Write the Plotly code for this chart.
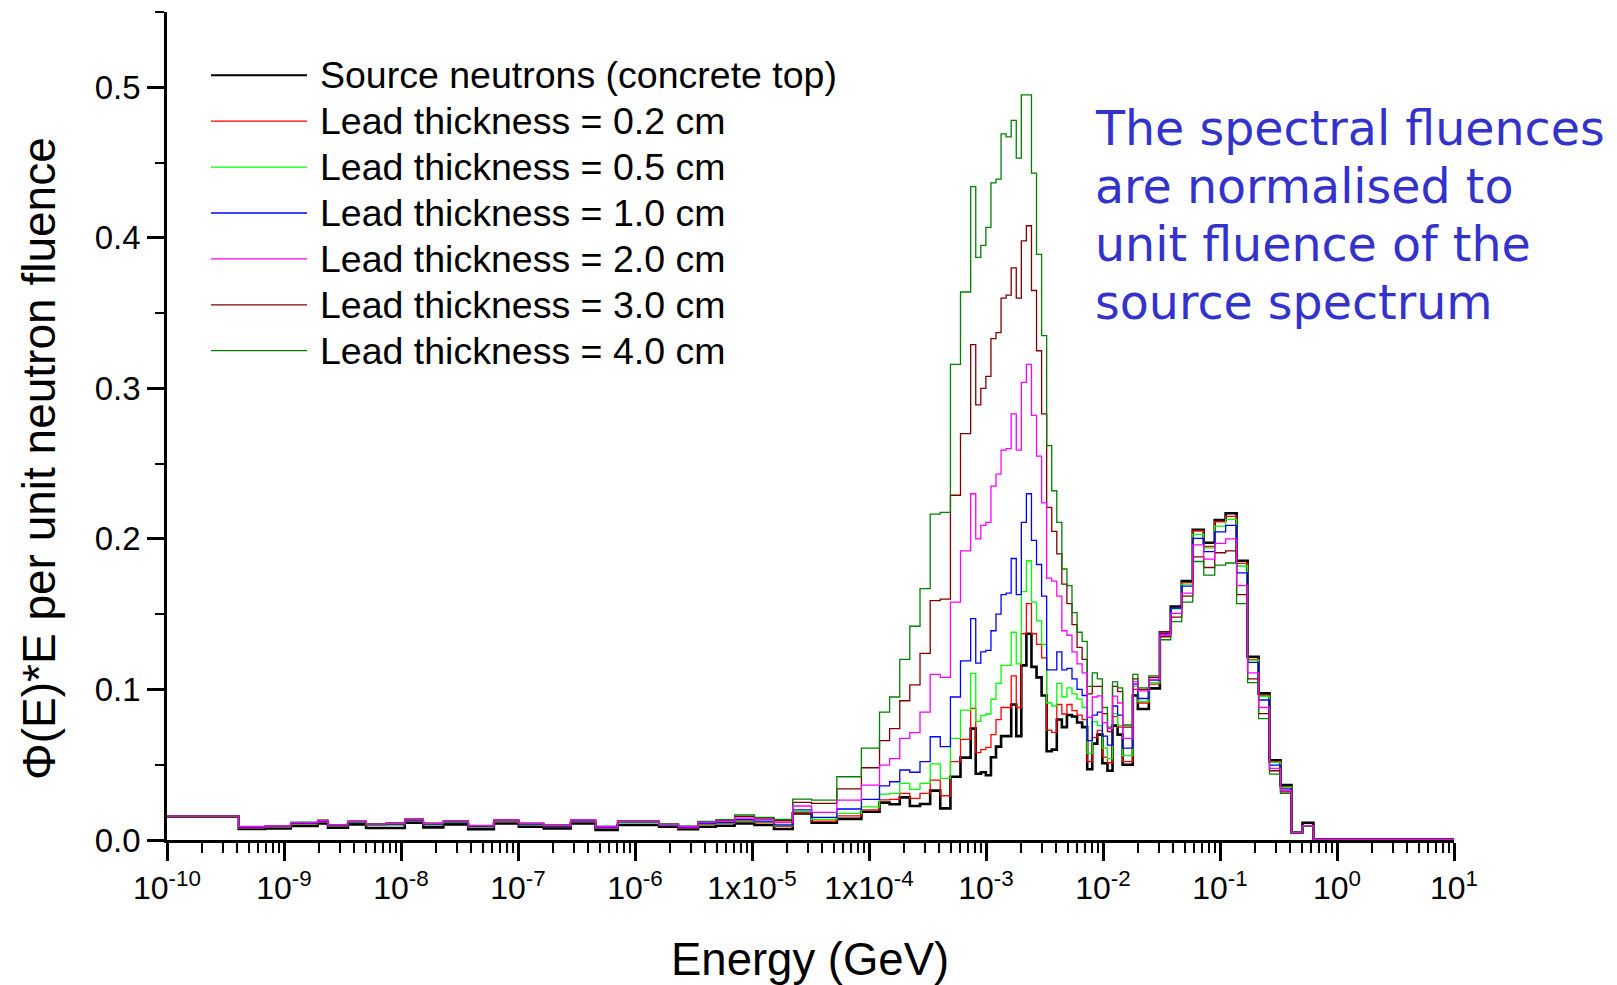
import plotly.graph_objects as go

# ---------------- data ----------------
# bin edges, log10(E / GeV)
edges_low = [-10.0, -9.387, -9.163, -8.943, -8.713, -8.624, -8.454, -8.298, -8.128, -7.968,
             -7.809, -7.638, -7.426, -7.206, -6.993, -6.78, -6.55, -6.337, -6.149, -5.794,
             -5.628, -5.461, -5.309, -5.149, -4.979, -4.812, -4.652]
edges_mid = [-4.49, -4.275, -4.065, -3.91, -3.824, -3.737, -3.651, -3.564, -3.477, -3.391,
             -3.304, -3.218, -3.131]
edges_peak = [-3.0877, -3.0444, -3.0011, -2.9578, -2.9145, -2.8712, -2.8279, -2.7846, -2.7413,
              -2.698, -2.6547, -2.6114, -2.5681, -2.5248, -2.4815, -2.4382, -2.3949, -2.3516,
              -2.3083, -2.265, -2.2217, -2.1784, -2.1351, -2.0918, -2.0485, -2.0052, -1.9619,
              -1.9186, -1.8753, -1.832, -1.7887, -1.7454, -1.7021]
edges_high = [-1.608, -1.514, -1.421, -1.327, -1.233, -1.139, -1.045, -0.952, -0.858, -0.764,
              -0.670, -0.577, -0.483, -0.389, -0.295, -0.201, 1.0]

# Source neutrons (concrete top)
black_low = [0.0155, 0.0073, 0.0077, 0.0093, 0.011, 0.0082, 0.0104, 0.008, 0.008, 0.0115,
             0.0084, 0.0104, 0.0071, 0.011, 0.0088, 0.0077, 0.011, 0.0066, 0.010, 0.0088,
             0.0071, 0.0088, 0.0095, 0.011, 0.010, 0.0073]
black_mid = [0.0177, 0.0115, 0.014, 0.0188, 0.0248, 0.0237, 0.0283, 0.0226, 0.0239, 0.0328,
             0.021, 0.042, 0.0547]
black_peak = [0.074, 0.044, 0.045, 0.043, 0.055, 0.062, 0.069, 0.069, 0.09, 0.069,
              0.116, 0.137, 0.115, 0.108, 0.096, 0.059, 0.06, 0.08, 0.075, 0.083,
              0.082, 0.078, 0.075, 0.047, 0.064, 0.070, 0.051, 0.046, 0.076, 0.070,
              0.050, 0.050, 0.096]
black_high = [0.087, 0.1007, 0.138, 0.155, 0.172, 0.206, 0.1974, 0.2125, 0.217, 0.1855,
              0.1217, 0.0974, 0.053, 0.0365, 0.005, 0.0115, 0.0004]

# Lead 0.2 cm
red_low = [0.0156, 0.0080, 0.0085, 0.0105, 0.0120, 0.0092, 0.0115, 0.0097, 0.0100, 0.0128,
           0.0100, 0.0116, 0.0085, 0.0123, 0.0100, 0.0088, 0.0122, 0.0078, 0.0115, 0.0096,
           0.0080, 0.0104, 0.0110, 0.0125, 0.0115, 0.0090]
red_mid = [0.018, 0.0126, 0.016, 0.020, 0.0266, 0.027, 0.031, 0.0277, 0.031, 0.0398,
           0.0294, 0.052, 0.0668]
red_peak = [0.0874, 0.058, 0.06, 0.0615, 0.070, 0.080, 0.088, 0.088, 0.109, 0.088,
            0.137, 0.157, 0.137, 0.13, 0.121, 0.073, 0.0715, 0.09, 0.0837, 0.09,
            0.086, 0.083, 0.080, 0.052, 0.068, 0.0728, 0.055, 0.0513, 0.082, 0.075,
            0.052, 0.052, 0.100]
red_high = [0.091, 0.1036, 0.138, 0.154, 0.171, 0.2054, 0.195, 0.2114, 0.215, 0.1837,
            0.120, 0.096, 0.052, 0.0355, 0.005, 0.0095, 0.0004]

# Lead 0.5 cm
lgreen_low = [0.0156, 0.0082, 0.0087, 0.0107, 0.0122, 0.0094, 0.0117, 0.0099, 0.0102, 0.0130,
              0.0102, 0.0118, 0.0088, 0.0126, 0.0103, 0.0090, 0.0125, 0.0080, 0.0118, 0.0098,
              0.0082, 0.0107, 0.0114, 0.0130, 0.0120, 0.0095]
lgreen_mid = [0.0188, 0.0137, 0.0177, 0.022, 0.0305, 0.031, 0.0376, 0.0336, 0.0376, 0.0505,
              0.041, 0.0675, 0.0863]
lgreen_peak = [0.1107, 0.0788, 0.0826, 0.0837, 0.0935, 0.104, 0.116, 0.116, 0.138, 0.117,
               0.165, 0.1855, 0.158, 0.1456, 0.130, 0.091, 0.089, 0.104, 0.095, 0.101,
               0.097, 0.0936, 0.088, 0.0575, 0.0786, 0.076, 0.061, 0.054, 0.084, 0.076,
               0.056, 0.056, 0.102]
lgreen_high = [0.092, 0.1045, 0.137, 0.1535, 0.170, 0.203, 0.194, 0.2085, 0.213, 0.182,
               0.1195, 0.0955, 0.0515, 0.035, 0.005, 0.0095, 0.0004]

# Lead 1.0 cm
blue_low = [0.0157, 0.0084, 0.0089, 0.0110, 0.0124, 0.0096, 0.0120, 0.0102, 0.0105, 0.0133,
            0.0105, 0.0121, 0.0090, 0.0129, 0.0106, 0.0093, 0.0128, 0.0083, 0.0121, 0.0100,
            0.0084, 0.0111, 0.0118, 0.0135, 0.0125, 0.0100]
blue_mid = [0.020, 0.015, 0.0206, 0.027, 0.0359, 0.0387, 0.0465, 0.045, 0.052, 0.0686,
            0.062, 0.095, 0.119]
blue_peak = [0.147, 0.1175, 0.125, 0.126, 0.139, 0.15, 0.163, 0.164, 0.187, 0.163,
             0.211, 0.23, 0.199, 0.183, 0.162, 0.113, 0.113, 0.125, 0.113, 0.114,
             0.107, 0.100, 0.096, 0.066, 0.083, 0.085, 0.069, 0.063, 0.089, 0.083,
             0.061, 0.061, 0.1036]
blue_high = [0.094, 0.1062, 0.137, 0.154, 0.1687, 0.2003, 0.1915, 0.2047, 0.209, 0.1775,
             0.118, 0.093, 0.0498, 0.034, 0.005, 0.0095, 0.0004]

# Lead 2.0 cm
magenta_low = [0.0158, 0.0088, 0.0093, 0.0115, 0.0128, 0.0100, 0.0124, 0.0106, 0.0110, 0.0137,
               0.0110, 0.0126, 0.0095, 0.0133, 0.0110, 0.0097, 0.0133, 0.0088, 0.0126, 0.0104,
               0.0088, 0.0117, 0.0125, 0.0145, 0.0135, 0.0115]
magenta_mid = [0.0226, 0.0184, 0.0265, 0.0365, 0.0498, 0.054, 0.0675, 0.0713, 0.085, 0.11,
               0.108, 0.158, 0.192]
magenta_peak = [0.23, 0.20, 0.209, 0.211, 0.235, 0.243, 0.259, 0.26, 0.283, 0.259,
                0.304, 0.316, 0.282, 0.255, 0.224, 0.174, 0.172, 0.162, 0.139, 0.136,
                0.125, 0.117, 0.111, 0.0815, 0.095, 0.0957, 0.078, 0.074, 0.0956, 0.091,
                0.0675, 0.0675, 0.105]
magenta_high = [0.099, 0.1067, 0.136, 0.1505, 0.164, 0.196, 0.1866, 0.197, 0.200, 0.169,
                0.111, 0.088, 0.0476, 0.033, 0.005, 0.0095, 0.0004]

# Lead 3.0 cm
brown_low = [0.0158, 0.0089, 0.0094, 0.0116, 0.0132, 0.0101, 0.0125, 0.0107, 0.0112, 0.0138,
             0.0111, 0.0127, 0.0096, 0.0134, 0.0111, 0.0099, 0.0134, 0.0090, 0.0127, 0.0106,
             0.0090, 0.0120, 0.0130, 0.0155, 0.0145, 0.0128]
brown_mid = [0.025, 0.0243, 0.034, 0.048, 0.066, 0.074, 0.0925, 0.103, 0.124, 0.159,
             0.16, 0.229, 0.270]
brown_peak = [0.329, 0.289, 0.30, 0.308, 0.333, 0.337, 0.36, 0.362, 0.38, 0.36,
              0.398, 0.408, 0.365, 0.325, 0.283, 0.221, 0.205, 0.19, 0.17, 0.157,
              0.143, 0.128, 0.12, 0.097, 0.102, 0.102, 0.084, 0.072, 0.102, 0.0985,
              0.075, 0.075, 0.107]
brown_high = [0.100, 0.108, 0.135, 0.148, 0.162, 0.188, 0.181, 0.1908, 0.192, 0.163,
              0.107, 0.084, 0.046, 0.032, 0.005, 0.0095, 0.0004]

# Lead 4.0 cm
dkgreen_low = [0.0158, 0.0090, 0.0095, 0.0118, 0.0130, 0.0102, 0.0126, 0.0108, 0.0113, 0.0140,
               0.0112, 0.0128, 0.0097, 0.0135, 0.0112, 0.0100, 0.0135, 0.0091, 0.0128, 0.0107,
               0.0092, 0.0123, 0.0135, 0.0166, 0.0150, 0.0137]
dkgreen_mid = [0.0272, 0.0265, 0.042, 0.061, 0.085, 0.095, 0.12, 0.142, 0.167, 0.2165,
               0.2176, 0.316, 0.364]
dkgreen_peak = [0.434, 0.387, 0.395, 0.407, 0.4365, 0.439, 0.469, 0.467, 0.478, 0.453,
                0.495, 0.495, 0.443, 0.389, 0.335, 0.262, 0.232, 0.211, 0.18, 0.169,
                0.151, 0.138, 0.132, 0.102, 0.111, 0.107, 0.088, 0.075, 0.105, 0.101,
                0.0764, 0.0764, 0.110]
dkgreen_high = [0.101, 0.109, 0.133, 0.145, 0.158, 0.185, 0.176, 0.1826, 0.184, 0.157,
                0.1045, 0.0806, 0.0438, 0.031, 0.005, 0.009, 0.0004]

series_names = ["Source neutrons (concrete top)", "Lead thickness = 0.2 cm",
                "Lead thickness = 0.5 cm", "Lead thickness = 1.0 cm",
                "Lead thickness = 2.0 cm", "Lead thickness = 3.0 cm",
                "Lead thickness = 4.0 cm"]
series_colors = ["#000000", "#FF0000", "#00FF00", "#0000FF", "#FF00FF", "#800000", "#008000"]
series_widths = [2.6, 1.3, 1.3, 1.3, 1.3, 1.3, 1.3]

x_tick_vals = [1e-10, 1e-9, 1e-8, 1e-7, 1e-6, 1e-5, 1e-4, 1e-3, 1e-2, 1e-1, 1e0, 1e1]
x_tick_text = ["10<sup>-10</sup>", "10<sup>-9</sup>", "10<sup>-8</sup>", "10<sup>-7</sup>",
               "10<sup>-6</sup>", "1x10<sup>-5</sup>", "1x10<sup>-4</sup>", "10<sup>-3</sup>",
               "10<sup>-2</sup>", "10<sup>-1</sup>", "10<sup>0</sup>", "10<sup>1</sup>"]

note_lines = ["The spectral fluences", "are normalised to", "unit fluence of the",
              "source spectrum"]

# ---------------- figure ----------------
edges = edges_low + edges_mid + edges_peak + edges_high
energies = [10 ** e for e in edges]

values = [
    black_low + black_mid + black_peak + black_high,
    red_low + red_mid + red_peak + red_high,
    lgreen_low + lgreen_mid + lgreen_peak + lgreen_high,
    blue_low + blue_mid + blue_peak + blue_high,
    magenta_low + magenta_mid + magenta_peak + magenta_high,
    brown_low + brown_mid + brown_peak + brown_high,
    dkgreen_low + dkgreen_mid + dkgreen_peak + dkgreen_high,
]

FONT = "Liberation Sans, Arial, sans-serif"
W, H = 1617, 985
L, R, T, B = 167, 163, 12, 145
PW, PH = W - L - R, H - T - B

fig = go.Figure()
draw_order = [0, 1, 2, 3, 5, 6, 4]
for i in draw_order:
    v = values[i]
    fig.add_trace(go.Scatter(
        x=energies, y=v + [v[-1]], mode="lines", name=series_names[i],
        line=dict(color=series_colors[i], width=series_widths[i], shape="hv"),
        showlegend=False, hoverinfo="skip"))

minor_vals = []
for d in range(-10, 1):
    for k in range(2, 10):
        minor_vals.append(k * 10 ** d)

fig.update_xaxes(
    type="log", range=[-10, 1], showgrid=False, zeroline=False,
    showline=True, linecolor="black", linewidth=2.5,
    ticks="outside", ticklen=18, tickwidth=2.5, tickcolor="black",
    tickmode="array", tickvals=x_tick_vals, ticktext=x_tick_text,
    tickfont=dict(family=FONT, size=32, color="black"),
    minor=dict(tickmode="array", tickvals=minor_vals, ticks="outside",
               ticklen=10, tickwidth=2, tickcolor="black", showgrid=False),
)
fig.update_yaxes(
    range=[0, 0.55], showgrid=False, zeroline=False,
    showline=True, linecolor="black", linewidth=2.5,
    ticks="outside", ticklen=17, tickwidth=2.5, tickcolor="black",
    tick0=0, dtick=0.1, tickformat=".1f",
    tickfont=dict(family=FONT, size=33, color="black"),
    minor=dict(ticks="outside", ticklen=9, tickwidth=2, tickcolor="black",
               dtick=0.05, tick0=0, showgrid=False),
)

def px_x(px):
    return (px - L) / PW

def px_y(py):
    return (H - B - py) / PH

annotations = []
shapes = []
# custom legend
for i, name in enumerate(series_names):
    yc = 75.3 + i * 45.9
    shapes.append(dict(type="line", xref="paper", yref="paper",
                       x0=px_x(211), x1=px_x(307), y0=px_y(yc), y1=px_y(yc),
                       line=dict(color=series_colors[i], width=2 if i == 0 else 1.3)))
    annotations.append(dict(xref="paper", yref="paper", x=px_x(318), y=px_y(yc),
                            xanchor="left", yanchor="middle", showarrow=False,
                            text=name, font=dict(family=FONT, size=37.5, color="black")))

# note text
for j, line in enumerate(note_lines):
    yc = 129 + j * 57.7
    annotations.append(dict(xref="paper", yref="paper", x=px_x(1093), y=px_y(yc),
                            xanchor="left", yanchor="middle", showarrow=False,
                            text=line, font=dict(family="DejaVu Sans, Verdana, sans-serif",
                                                 size=47.5, color="#3333CC")))

# axis titles
annotations.append(dict(xref="paper", yref="paper", x=px_x(810), y=px_y(959),
                        xanchor="center", yanchor="middle", showarrow=False,
                        text="Energy (GeV)", font=dict(family=FONT, size=45.5, color="black")))
annotations.append(dict(xref="paper", yref="paper", x=px_x(39), y=px_y(459),
                        xanchor="center", yanchor="middle", showarrow=False, textangle=-90,
                        text="\u03a6(E)*E per unit neutron fluence",
                        font=dict(family=FONT, size=46, color="black")))

fig.update_layout(
    width=W, height=H, autosize=False,
    margin=dict(l=L, r=R, t=T, b=B, pad=0),
    paper_bgcolor="white", plot_bgcolor="white",
    showlegend=False, annotations=annotations, shapes=shapes,
)

fig.write_html("out.html")
